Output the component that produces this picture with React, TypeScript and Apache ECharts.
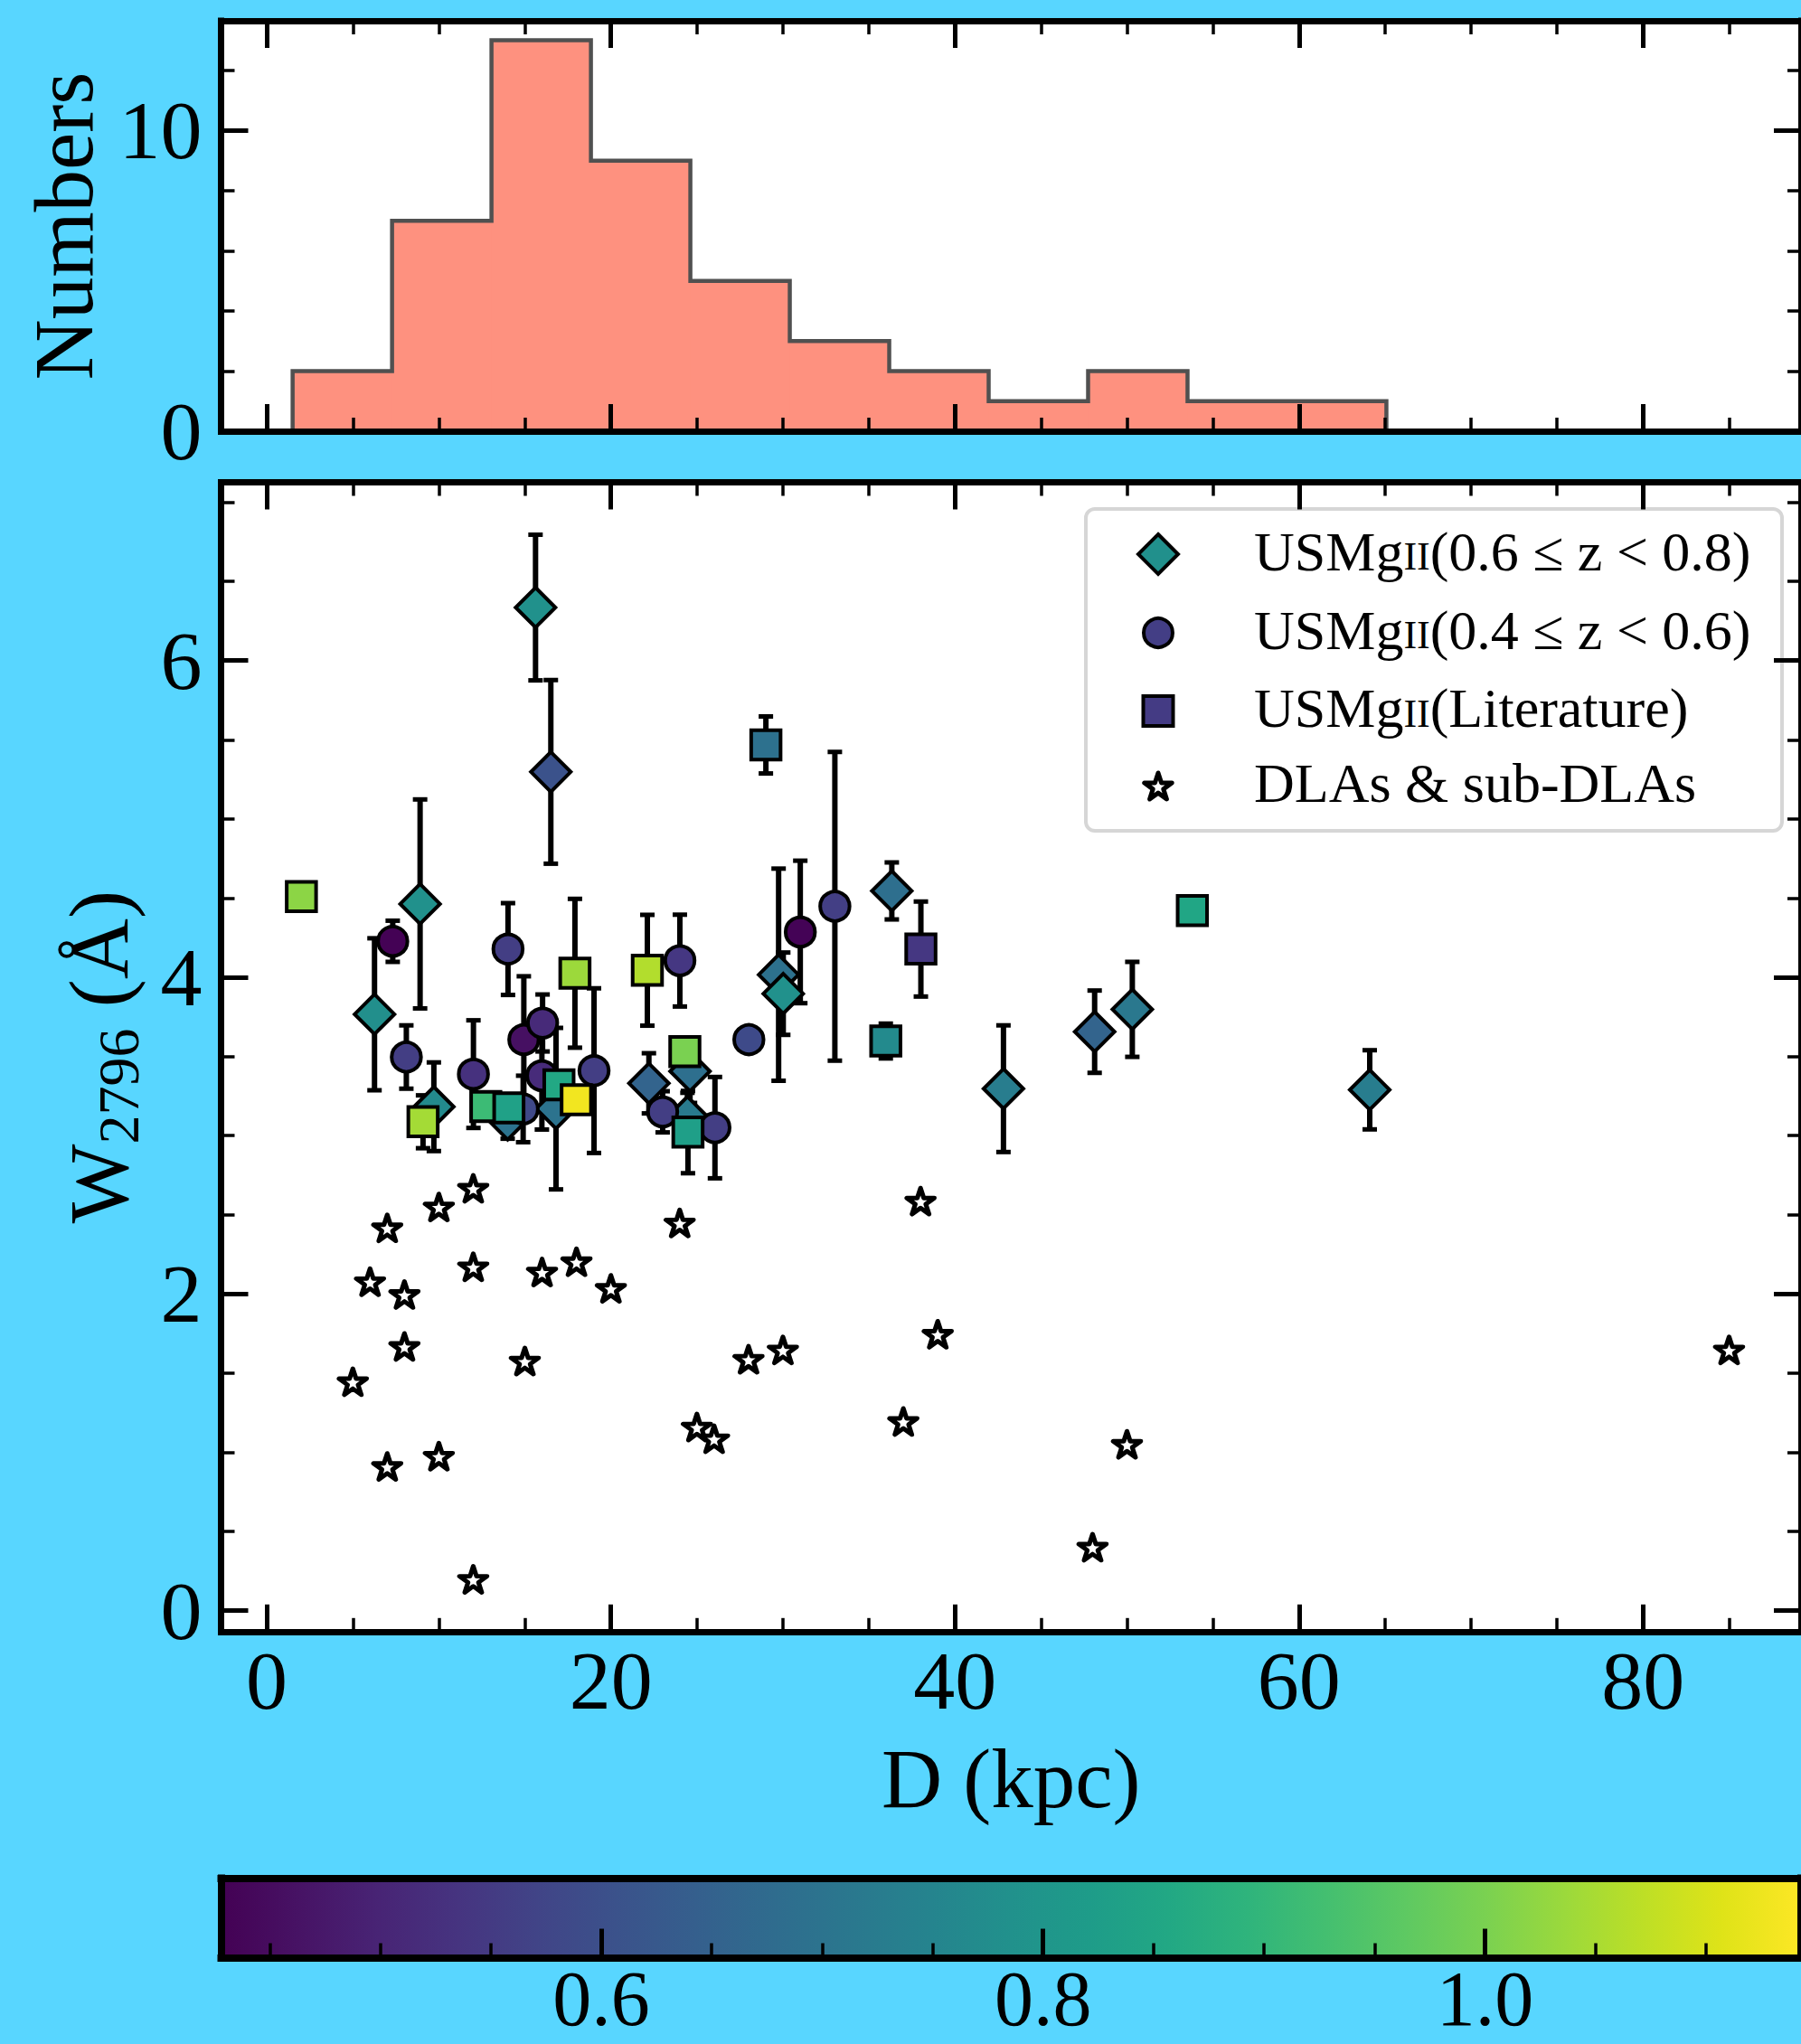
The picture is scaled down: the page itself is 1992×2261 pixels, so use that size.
import React, { useEffect, useRef } from "react";
import * as echarts from "echarts";

const FONT = "'Liberation Serif', 'Times New Roman', serif";

// ---- Top panel: histogram of impact parameters ----
const histEdges = [1.5, 7.28, 13.06, 18.84, 24.62, 30.4, 36.18, 41.96, 47.74, 53.52, 59.3, 65.08];
const histCounts = [2, 7, 13, 9, 5, 3, 2, 1, 2, 1, 1];

// ---- USMgII absorbers, 0.6 <= z < 0.8 (D in kpc, W2796 in Å, 1σ error, colour value) ----
const diamondD = [14.0, 24.45, 15.62, 16.51, 8.91, 6.26, 9.71, 16.81, 22.21, 24.6, 29.75, 30.02, 36.33, 42.82, 48.12, 50.31, 64.11];
const diamondW = [3.1, 3.12, 6.335, 5.297, 4.463, 3.766, 3.182, 3.17, 3.33, 3.406, 4.016, 3.896, 4.545, 3.296, 3.656, 3.797, 3.289];
const diamondErr = [0.12, 0.15, 0.46, 0.58, 0.66, 0.48, 0.28, 0.51, 0.19, 0.2, 0.67, 0.26, 0.18, 0.4, 0.26, 0.3, 0.25];
const diamondZ = [0.7, 0.72, 0.786, 0.607, 0.786, 0.78, 0.765, 0.7, 0.657, 0.686, 0.693, 0.786, 0.686, 0.73, 0.657, 0.715, 0.73];

// ---- USMgII absorbers, 0.4 <= z < 0.6 ----
const circleD = [7.32, 14.02, 24.01, 31.01, 33.02, 8.11, 12.01, 14.94, 16.03, 15.99, 14.9, 19.02, 23.01, 26.05, 28.02];
const circleW = [4.227, 4.178, 4.105, 4.286, 4.448, 3.496, 3.388, 3.606, 3.711, 3.378, 3.168, 3.41, 3.15, 3.05, 3.606];
const circleErr = [0.13, 0.29, 0.29, 0.45, 0.975, 0.2, 0.34, 0.4, 0.18, 0.34, 0.21, 0.52, 0.13, 0.32, 0];
const circleZ = [0.43, 0.557, 0.543, 0.432, 0.56, 0.557, 0.528, 0.457, 0.514, 0.515, 0.585, 0.557, 0.557, 0.557, 0.586];

// ---- USMgII absorbers from the literature ----
const squareD = [2.01, 9.08, 12.73, 14.07, 16.98, 17.99, 17.91, 22.12, 24.3, 24.48, 29.01, 35.98, 38.02, 53.8];
const squareW = [4.51, 3.087, 3.184, 3.175, 3.321, 3.226, 4.025, 4.044, 3.53, 3.022, 5.467, 3.597, 4.178, 4.421];
const squareErr = [0, 0.167, 0, 0, 0, 0, 0.47, 0.35, 0, 0.26, 0.18, 0.11, 0.3, 0];
const squareZ = [1.02, 1.045, 0.915, 0.837, 0.858, 1.13, 1.037, 1.06, 1.0, 0.83, 0.693, 0.765, 0.543, 0.85];

// ---- DLAs & sub-DLAs ----
const dlaD = [12, 10, 7, 24, 6, 8, 12, 16, 18, 20, 8, 5, 15, 28, 30, 25, 26, 7, 10, 12, 38, 39, 37, 50, 48, 85];
const dlaW = [2.667, 2.549, 2.417, 2.448, 2.077, 1.996, 2.171, 2.138, 2.203, 2.035, 1.668, 1.445, 1.576, 1.587, 1.646, 1.159, 1.085, 0.91, 0.975, 0.197, 2.586, 1.745, 1.194, 1.05, 0.4, 1.646];

// ---- axis ranges and ticks ----
const xMin = -2.66;
const xMax = 89.18;
const xMajor = [0, 20, 40, 60, 80];
const xMinor = [5, 10, 15, 25, 30, 35, 45, 50, 55, 65, 70, 75, 85];
const histYMax = 13.65;
const histYMajor = [0, 10];
const histYMinor = [2, 4, 6, 8, 12];
const wMin = -0.133;
const wMax = 7.126;
const wMajor = [0, 2, 4, 6];
const wMinor = [0.5, 1, 1.5, 2.5, 3, 3.5, 4.5, 5, 5.5, 6.5, 7];
const cbMin = 0.428;
const cbMax = 1.143;
const cbMajor = [0.6, 0.8, 1.0];
const cbMinor = [0.45, 0.5, 0.55, 0.65, 0.7, 0.75, 0.85, 0.9, 0.95, 1.05, 1.1];

const viridis = [
  "#440154", "#471365", "#482475", "#463480", "#414487", "#3b528b", "#355f8d",
  "#2f6c8e", "#2a788e", "#25848e", "#21918c", "#1e9c89", "#22a884", "#2fb47c",
  "#44bf70", "#5ec962", "#7ad151", "#9bd93c", "#bddf26", "#dfe318", "#fde725",
];

const BG = "#58d6ff";

function rows(d: number[], w: number[], e: number[], z: number[]) {
  return d.map((x, i) => [x, w[i], e[i], z[i]]);
}

function starPoints(cx: number, cy: number, R: number) {
  const pts: number[][] = [];
  for (let i = 0; i < 10; i++) {
    const a = -Math.PI / 2 + (i * Math.PI) / 5;
    const r = i % 2 === 0 ? R : R * 0.381966;
    pts.push([cx + r * Math.cos(a), cy + r * Math.sin(a)]);
  }
  return pts;
}

const starPath =
  "path://" +
  starPoints(0, 0, 100)
    .map((p, i) => (i === 0 ? "M" : "L") + p[0].toFixed(2) + " " + p[1].toFixed(2))
    .join(" ") +
  " Z";

type AxisSpec = {
  grid: number;
  min: number;
  max: number;
  pos: string;
  ticks: number[];
  major?: boolean;
  line?: boolean;
  lineWidth?: number;
  labels?: boolean;
  margin?: number;
  fontSize?: number;
  lineHeight?: number;
  fmt?: (v: number) => string;
  tickLen?: number;
  extra?: any;
};

function axis(s: AxisSpec) {
  const major = !!s.major;
  return {
    type: "value",
    gridIndex: s.grid,
    min: s.min,
    max: s.max,
    position: s.pos,
    z: 10,
    silent: true,
    splitLine: { show: false },
    axisPointer: { show: false },
    axisLine: {
      show: !!s.line,
      onZero: false,
      lineStyle: { color: "#000", width: s.lineWidth ?? 7, cap: "square" },
    },
    axisTick: {
      show: s.ticks.length > 0,
      inside: true,
      customValues: s.ticks,
      length: s.tickLen ?? (major ? 30 : 15),
      lineStyle: { color: "#000", width: major ? 5 : 3.5 },
    },
    axisLabel: s.labels
      ? {
          show: true,
          customValues: s.ticks,
          margin: s.margin ?? 8,
          fontSize: s.fontSize ?? 92,
          lineHeight: s.lineHeight,
          fontFamily: FONT,
          color: "#000",
          formatter: s.fmt,
          showMinLabel: true,
          showMaxLabel: true,
        }
      : { show: false },
    ...(s.extra || {}),
  };
}

function buildOption() {
  const diamonds = rows(diamondD, diamondW, diamondErr, diamondZ);
  const circles = rows(circleD, circleW, circleErr, circleZ);
  const squares = rows(squareD, squareW, squareErr, squareZ);
  const dlas = dlaD.map((x, i) => [x, dlaW[i]]);
  const errRows = [...diamonds, ...circles, ...squares].filter((r) => r[2] > 0);

  const histBins = histCounts.map((c, i) => [histEdges[i], histEdges[i + 1], c]);
  const outline: number[][] = [[histEdges[0], 0]];
  histCounts.forEach((c, i) => {
    outline.push([histEdges[i], c]);
    outline.push([histEdges[i + 1], c]);
  });
  outline.push([histEdges[histEdges.length - 1], 0]);

  const nameStyle = { fontSize: 93, fontFamily: FONT, color: "#000" };

  const xAxis = [
    // top panel
    axis({ grid: 0, min: xMin, max: xMax, pos: "bottom", ticks: xMajor, major: true, line: true }),
    axis({ grid: 0, min: xMin, max: xMax, pos: "bottom", ticks: xMinor }),
    axis({ grid: 0, min: xMin, max: xMax, pos: "top", ticks: xMajor, major: true, line: true }),
    axis({ grid: 0, min: xMin, max: xMax, pos: "top", ticks: xMinor }),
    // main panel
    axis({
      grid: 1, min: xMin, max: xMax, pos: "bottom", ticks: xMajor, major: true, line: true,
      labels: true, margin: 8,
      extra: { name: "D (kpc)", nameLocation: "middle", nameGap: 116, nameTextStyle: nameStyle },
    }),
    axis({ grid: 1, min: xMin, max: xMax, pos: "bottom", ticks: xMinor }),
    axis({ grid: 1, min: xMin, max: xMax, pos: "top", ticks: xMajor, major: true, line: true }),
    axis({ grid: 1, min: xMin, max: xMax, pos: "top", ticks: xMinor }),
    // colour bar
    axis({
      grid: 2, min: cbMin, max: cbMax, pos: "bottom", ticks: cbMajor, major: true, line: true,
      lineWidth: 8, labels: true, margin: 13, fontSize: 86, lineHeight: 64, tickLen: 32,
      fmt: (v: number) => v.toFixed(1),
    }),
    axis({ grid: 2, min: cbMin, max: cbMax, pos: "bottom", ticks: cbMinor, tickLen: 16 }),
    axis({ grid: 2, min: cbMin, max: cbMax, pos: "top", ticks: [], line: true, lineWidth: 8 }),
  ];

  const yAxis = [
    axis({
      grid: 0, min: 0, max: histYMax, pos: "left", ticks: histYMajor, major: true, line: true,
      labels: true, margin: 21,
      extra: { name: "Numbers", nameLocation: "middle", nameRotate: 90, nameGap: 128, nameTextStyle: nameStyle },
    }),
    axis({ grid: 0, min: 0, max: histYMax, pos: "left", ticks: histYMinor }),
    axis({ grid: 0, min: 0, max: histYMax, pos: "right", ticks: histYMajor, major: true, line: true }),
    axis({ grid: 0, min: 0, max: histYMax, pos: "right", ticks: histYMinor }),
    axis({
      grid: 1, min: wMin, max: wMax, pos: "left", ticks: wMajor, major: true, line: true,
      labels: true, margin: 21,
      extra: {
        name: "{w|W}{s|2796}{w| (Å)}",
        nameLocation: "middle",
        nameRotate: 90,
        nameGap: 81,
        nameTextStyle: {
          ...nameStyle,
          rich: {
            w: { fontSize: 93, fontFamily: FONT, color: "#000" },
            s: { fontSize: 64, fontFamily: FONT, color: "#000", padding: [45, 0, 0, 0] },
          },
        },
      },
    }),
    axis({ grid: 1, min: wMin, max: wMax, pos: "left", ticks: wMinor }),
    axis({ grid: 1, min: wMin, max: wMax, pos: "right", ticks: wMajor, major: true, line: true }),
    axis({ grid: 1, min: wMin, max: wMax, pos: "right", ticks: wMinor }),
    axis({ grid: 2, min: 0, max: 1, pos: "left", ticks: [], line: true, lineWidth: 8 }),
    axis({ grid: 2, min: 0, max: 1, pos: "right", ticks: [], line: true, lineWidth: 8 }),
  ];

  const markerBase = {
    type: "scatter",
    xAxisIndex: 4,
    yAxisIndex: 4,
    silent: true,
    encode: { x: 0, y: 1 },
    emphasis: { disabled: true },
  };

  const legendRows = [613, 700, 786.5, 869.5];
  const legendText = [
    "{n|USMg}{sc|II}{n|(0.6 ≤ z < 0.8)}",
    "{n|USMg}{sc|II}{n|(0.4 ≤ z < 0.6)}",
    "{n|USMg}{sc|II}{n|(Literature)}",
    "{n|DLAs & sub-DLAs}",
  ];
  const lx = 1281;
  const rich = {
    n: { fontSize: 62, fontFamily: FONT, color: "#000", verticalAlign: "bottom" },
    sc: { fontSize: 44, fontFamily: FONT, color: "#000", verticalAlign: "bottom", padding: [0, 0, 3, 0] },
  };

  return {
    animation: false,
    backgroundColor: BG,
    textStyle: { fontFamily: FONT },
    grid: [
      { left: 244.5, top: 23, width: 1756, height: 454, show: true, backgroundColor: "#fff", borderWidth: 0 },
      { left: 244.5, top: 533.5, width: 1756, height: 1271.3, show: true, backgroundColor: "#fff", borderWidth: 0 },
      { left: 244.5, top: 2077.5, width: 1756, height: 88, show: false },
    ],
    xAxis,
    yAxis,
    visualMap: {
      type: "continuous",
      show: false,
      min: cbMin,
      max: cbMax,
      dimension: 3,
      seriesIndex: [4, 5, 6],
      inRange: { color: viridis },
    },
    series: [
      {
        type: "custom",
        name: "hist-fill",
        xAxisIndex: 0,
        yAxisIndex: 0,
        silent: true,
        data: histBins,
        encode: { x: [0, 1], y: 2 },
        renderItem: (_p: any, api: any) => {
          const a = api.coord([api.value(0), api.value(2)]);
          const b = api.coord([api.value(1), 0]);
          return {
            type: "rect",
            shape: { x: a[0], y: a[1], width: b[0] - a[0] + 0.6, height: b[1] - a[1] },
            style: { fill: "#fe917f" },
          };
        },
      },
      {
        type: "line",
        name: "hist-edge",
        xAxisIndex: 0,
        yAxisIndex: 0,
        silent: true,
        data: outline,
        showSymbol: false,
        symbol: "none",
        lineStyle: { color: "#505050", width: 4.5, join: "miter" },
      },
      {
        type: "custom",
        name: "errors",
        xAxisIndex: 4,
        yAxisIndex: 4,
        silent: true,
        data: errRows,
        encode: { x: 0, y: 1 },
        renderItem: (_p: any, api: any) => {
          const x = api.value(0);
          const y = api.value(1);
          const e = api.value(2);
          const hi = api.coord([x, y + e]);
          const lo = api.coord([x, y - e]);
          const cap = 8;
          return {
            type: "group",
            children: [
              { type: "line", shape: { x1: hi[0], y1: hi[1], x2: lo[0], y2: lo[1] }, style: { stroke: "#000", lineWidth: 6 } },
              { type: "line", shape: { x1: hi[0] - cap, y1: hi[1], x2: hi[0] + cap, y2: hi[1] }, style: { stroke: "#000", lineWidth: 5 } },
              { type: "line", shape: { x1: lo[0] - cap, y1: lo[1], x2: lo[0] + cap, y2: lo[1] }, style: { stroke: "#000", lineWidth: 5 } },
            ],
          };
        },
      },
      {
        ...markerBase,
        name: "DLAs & sub-DLAs",
        data: dlas,
        symbol: starPath,
        symbolSize: [30.4, 28.9],
        itemStyle: { color: "#fff", borderColor: "#000", borderWidth: 5, borderJoin: "round", opacity: 1 },
      },
      {
        ...markerBase,
        name: "USMgII(0.6 ≤ z < 0.8)",
        data: diamonds,
        symbol: "diamond",
        symbolSize: 44,
        itemStyle: { borderColor: "#000", borderWidth: 4, opacity: 1 },
      },
      {
        ...markerBase,
        name: "USMgII(0.4 ≤ z < 0.6)",
        data: circles,
        symbol: "circle",
        symbolSize: 32.5,
        itemStyle: { borderColor: "#000", borderWidth: 4, opacity: 1 },
      },
      {
        ...markerBase,
        name: "USMgII(Literature)",
        data: squares,
        symbol: "rect",
        symbolSize: 32.5,
        itemStyle: { borderColor: "#000", borderWidth: 4, opacity: 1 },
      },
      {
        type: "custom",
        name: "colorbar",
        xAxisIndex: 8,
        yAxisIndex: 8,
        silent: true,
        data: [[cbMin, cbMax]],
        encode: { x: [0, 1] },
        renderItem: (_p: any, api: any) => {
          const a = api.coord([api.value(0), 1]);
          const b = api.coord([api.value(1), 0]);
          return {
            type: "rect",
            shape: { x: a[0], y: a[1], width: b[0] - a[0], height: b[1] - a[1] },
            style: {
              fill: {
                type: "linear",
                x: 0,
                y: 0,
                x2: 1,
                y2: 0,
                colorStops: viridis.map((c, i) => ({ offset: i / (viridis.length - 1), color: c })),
              },
            },
          };
        },
      },
    ],
    graphic: [
      {
        type: "group",
        z: 50,
        children: [
          {
            type: "rect",
            shape: { x: 1201, y: 563, width: 770, height: 356, r: 10 },
            style: { fill: "rgba(255,255,255,0.85)", stroke: "#d6d6d6", lineWidth: 4 },
          },
          {
            type: "polygon",
            shape: { points: [[lx, legendRows[0] - 22], [lx + 22, legendRows[0]], [lx, legendRows[0] + 22], [lx - 22, legendRows[0]]] },
            style: { fill: "#21908c", stroke: "#000", lineWidth: 4 },
          },
          {
            type: "circle",
            shape: { cx: lx, cy: legendRows[1], r: 16 },
            style: { fill: "#433e85", stroke: "#000", lineWidth: 4 },
          },
          {
            type: "rect",
            shape: { x: lx - 16.5, y: legendRows[2] - 16.5, width: 33, height: 33 },
            style: { fill: "#443b84", stroke: "#000", lineWidth: 4 },
          },
          {
            type: "polygon",
            shape: { points: starPoints(lx, legendRows[3] + 1.5, 16) },
            style: { fill: "#fff", stroke: "#000", lineWidth: 5, lineJoin: "round" },
          },
          ...legendText.map((t, i) => ({
            type: "text",
            x: 1387,
            y: legendRows[i] - 3.4,
            style: {
              text: t,
              rich,
              fill: "#000",
              fontSize: 62,
              fontFamily: FONT,
              align: "left",
              verticalAlign: "middle",
            },
          })),
        ],
      },
    ],
  };
}

export default function App() {
  const ref = useRef<HTMLDivElement>(null);
  useEffect(() => {
    document.body.style.margin = "0";
    document.body.style.overflow = "hidden";
    const chart = echarts.init(ref.current!, null, { renderer: "svg", width: 1992, height: 2261 });
    chart.setOption(buildOption() as any);
    return () => chart.dispose();
  }, []);
  return <div ref={ref} style={{ width: 1992, height: 2261, background: BG }} />;
}
